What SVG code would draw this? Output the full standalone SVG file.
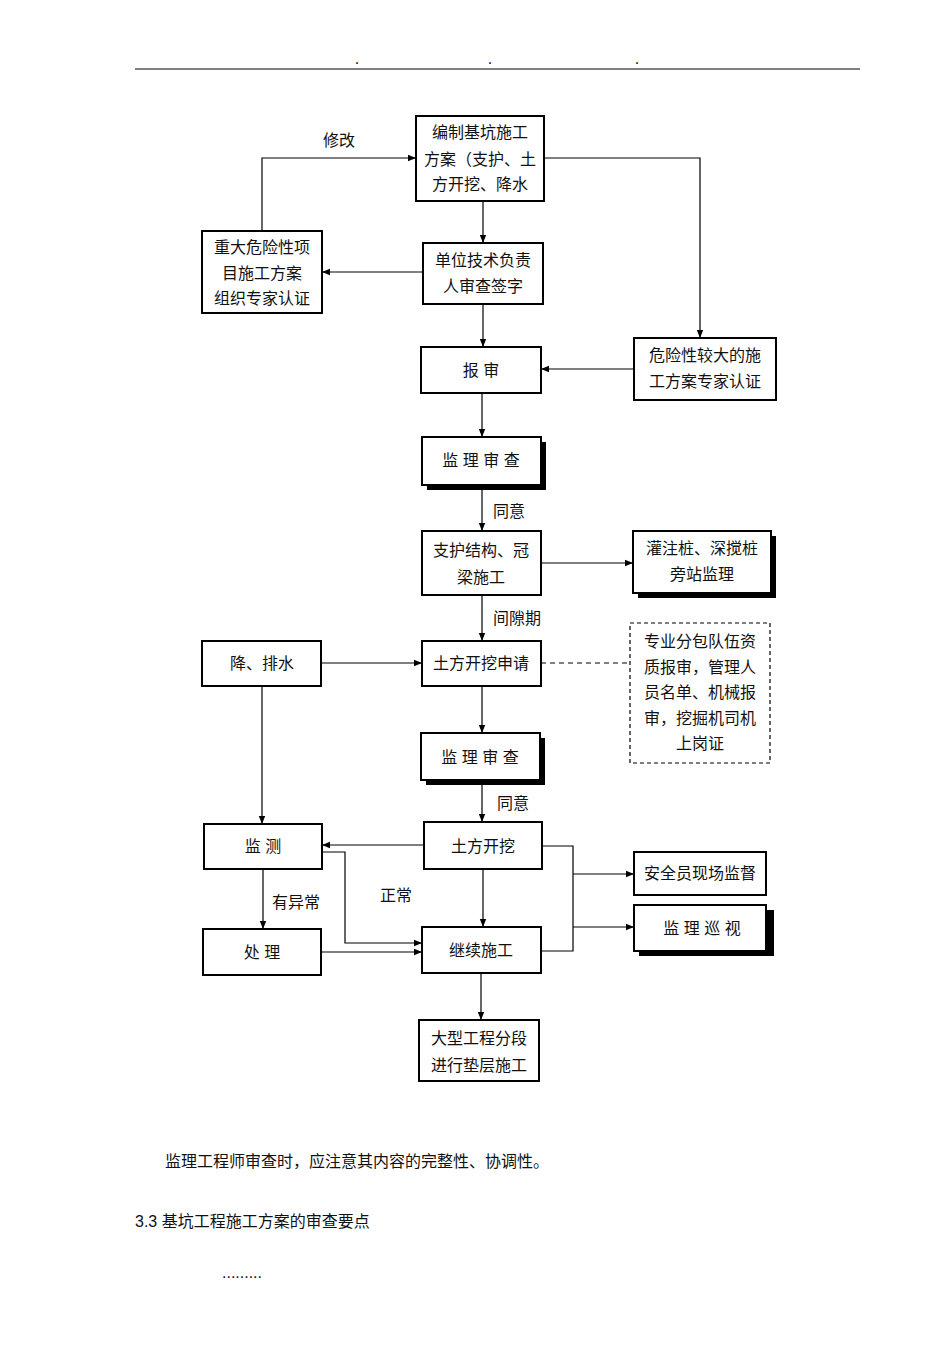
<svg xmlns="http://www.w3.org/2000/svg" width="950" height="1345" viewBox="0 0 950 1345">
<defs>
<style>
.b{fill:#fff;stroke:#000;stroke-width:2}
.s{fill:#000}
.t{font-family:"Liberation Sans","Noto Sans CJK SC",sans-serif;font-size:16px;fill:#111;text-anchor:middle}
.l{font-family:"Liberation Sans","Noto Sans CJK SC",sans-serif;font-size:16px;fill:#111}
.c{fill:none;stroke:#000;stroke-width:1.2}
</style>
<marker id="a" viewBox="0 0 10 10" refX="10" refY="5" markerWidth="8" markerHeight="8" orient="auto" markerUnits="userSpaceOnUse"><path d="M0,1 L10,5 L0,9 Z" fill="#000"/></marker>
</defs>
<rect width="950" height="1345" fill="#fff"/>
<line x1="135" y1="69" x2="860" y2="69" stroke="#000" stroke-width="1"/>
<text class="t" x="357" y="64" font-size="8">.</text><text class="t" x="490" y="64" font-size="8">.</text><text class="t" x="637" y="64" font-size="8">.</text>
<g id="connectors">
<path class="c" d="M483,201 V243" marker-end="url(#a)"/>
<path class="c" d="M423,272 H322" marker-end="url(#a)"/>
<path class="c" d="M262,231 V158 H416" marker-end="url(#a)"/>
<path class="c" d="M544,158 H700 V338" marker-end="url(#a)"/>
<path class="c" d="M483,304 V347" marker-end="url(#a)"/>
<path class="c" d="M634,369 H541" marker-end="url(#a)"/>
<path class="c" d="M482,393 V437" marker-end="url(#a)"/>
<path class="c" d="M482,485 V531" marker-end="url(#a)"/>
<path class="c" d="M541,563 H633" marker-end="url(#a)"/>
<path class="c" d="M482,595 V641" marker-end="url(#a)"/>
<path class="c" d="M321,663 H422" marker-end="url(#a)"/>
<path class="c" d="M541,663 H630" stroke-dasharray="5,4"/>
<path class="c" d="M482,686 V733" marker-end="url(#a)"/>
<path class="c" d="M482,780 V822" marker-end="url(#a)"/>
<path class="c" d="M262,686 V824" marker-end="url(#a)"/>
<path class="c" d="M424,845 H322" marker-end="url(#a)"/>
<path class="c" d="M322,852 H345 V943 H422" marker-end="url(#a)"/>
<path class="c" d="M263,869 V929" marker-end="url(#a)"/>
<path class="c" d="M321,952 H422" marker-end="url(#a)"/>
<path class="c" d="M483,869 V927" marker-end="url(#a)"/>
<path class="c" d="M542,846 H573 V951 H541"/>
<path class="c" d="M573,874 H634" marker-end="url(#a)"/>
<path class="c" d="M573,927 H634" marker-end="url(#a)"/>
<path class="c" d="M481,973 V1020" marker-end="url(#a)"/>
<text class="l" x="323" y="146">修改</text>
<text class="l" x="493" y="517">同意</text>
<text class="l" x="493" y="624">间隙期</text>
<text class="l" x="497" y="809">同意</text>
<text class="l" x="380" y="901">正常</text>
<text class="l" x="272" y="908">有异常</text>
</g>
<g id="n1"><rect class="b" x="416" y="116" width="128" height="85"/><text class="t" x="480" y="138">编制基坑施工</text><text class="t" x="480" y="165">方案（支护、土</text><text class="t" x="480" y="190">方开挖、降水</text></g>
<g id="n2"><rect class="b" x="202" y="231" width="120" height="82"/><text class="t" x="262" y="253">重大危险性项</text><text class="t" x="262" y="279">目施工方案</text><text class="t" x="262" y="304">组织专家认证</text></g>
<g id="n3"><rect class="b" x="423" y="243" width="120" height="61"/><text class="t" x="483" y="266">单位技术负责</text><text class="t" x="483" y="292">人审查签字</text></g>
<g id="n4"><rect class="b" x="421" y="347" width="120" height="46"/><text class="t" x="481" y="376">报 审</text></g>
<g id="n5"><rect class="b" x="634" y="338" width="142" height="62"/><text class="t" x="705" y="361">危险性较大的施</text><text class="t" x="705" y="387">工方案专家认证</text></g>
<g id="n6"><rect class="s" x="427" y="442" width="119" height="48"/><rect class="b" x="422" y="437" width="119" height="48"/><text class="t" x="481" y="466">监 理 审 查</text></g>
<g id="n7"><rect class="b" x="422" y="531" width="119" height="64"/><text class="t" x="481" y="556">支护结构、冠</text><text class="t" x="481" y="583">梁施工</text></g>
<g id="n8"><rect class="s" x="638" y="536" width="138" height="62"/><rect class="b" x="633" y="531" width="138" height="62"/><text class="t" x="702" y="554">灌注桩、深搅桩</text><text class="t" x="702" y="580">旁站监理</text></g>
<g id="n9"><rect class="b" x="202" y="641" width="119" height="45"/><text class="t" x="262" y="669">降、排水</text></g>
<g id="n10"><rect class="b" x="422" y="641" width="119" height="45"/><text class="t" x="481" y="669">土方开挖申请</text></g>
<g id="n11"><rect x="630" y="623" width="140" height="140" fill="#fff" stroke="#000" stroke-width="1.2" stroke-dasharray="4,3"/><text class="t" x="700" y="647">专业分包队伍资</text><text class="t" x="700" y="673">质报审，管理人</text><text class="t" x="700" y="698">员名单、机械报</text><text class="t" x="700" y="724">审，挖掘机司机</text><text class="t" x="700" y="749">上岗证</text></g>
<g id="n12"><rect class="s" x="426" y="738" width="119" height="47"/><rect class="b" x="421" y="733" width="119" height="47"/><text class="t" x="480" y="763">监 理 审 查</text></g>
<g id="n13"><rect class="b" x="204" y="824" width="118" height="45"/><text class="t" x="263" y="852">监 测</text></g>
<g id="n14"><rect class="b" x="424" y="822" width="118" height="47"/><text class="t" x="483" y="852">土方开挖</text></g>
<g id="n15"><rect class="b" x="634" y="852" width="132" height="43"/><text class="t" x="700" y="879">安全员现场监督</text></g>
<g id="n16"><rect class="s" x="639" y="910" width="135" height="46"/><rect class="b" x="634" y="905" width="132" height="46"/><text class="t" x="702" y="934">监 理 巡 视</text></g>
<g id="n17"><rect class="b" x="203" y="929" width="118" height="46"/><text class="t" x="262" y="958">处 理</text></g>
<g id="n18"><rect class="b" x="422" y="927" width="119" height="46"/><text class="t" x="481" y="956">继续施工</text></g>
<g id="n19"><rect class="b" x="419" y="1020" width="120" height="61"/><text class="t" x="479" y="1044">大型工程分段</text><text class="t" x="479" y="1071">进行垫层施工</text></g>
<text class="l" x="165" y="1167">监理工程师审查时，应注意其内容的完整性、协调性。</text>
<text class="l" x="135" y="1227">3.3  基坑工程施工方案的审查要点</text>
<text class="l" x="222" y="1278" font-size="11">.........</text>
</svg>
